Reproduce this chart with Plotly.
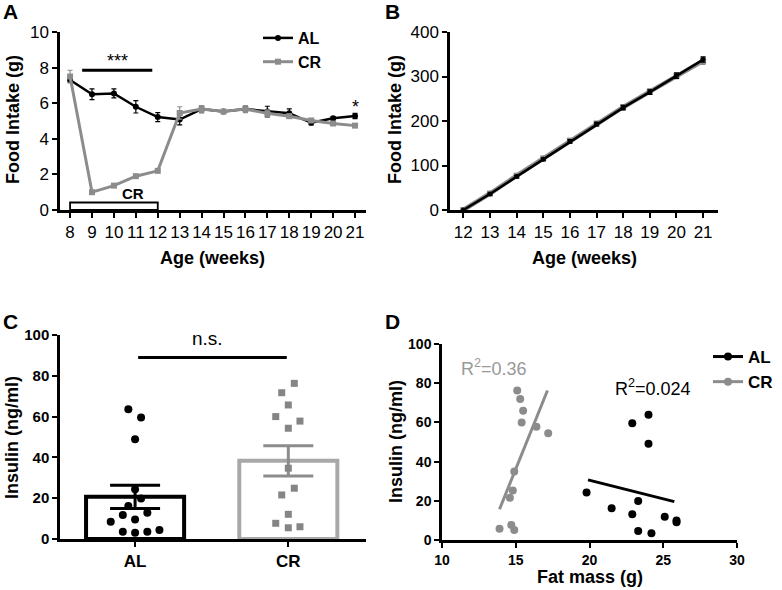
import plotly.graph_objects as go

# Panel A: weekly food intake
weeks_a = [8, 9, 10, 11, 12, 13, 14, 15, 16, 17, 18, 19, 20, 21]
al_intake = [7.3, 6.5, 6.55, 5.8, 5.22, 5.08, 5.67, 5.53, 5.67, 5.53, 5.43, 4.9, 5.15, 5.28]
al_intake_err = [0.15, 0.3, 0.25, 0.35, 0.25, 0.3, 0.2, 0.1, 0.15, 0.3, 0.25, 0.12, 0.1, 0.15]
cr_intake = [7.5, 1.0, 1.37, 1.9, 2.2, 5.45, 5.67, 5.53, 5.67, 5.43, 5.27, 5.03, 4.86, 4.74]
cr_intake_err = [0.35, 0.05, 0.05, 0.05, 0.05, 0.35, 0.2, 0.1, 0.2, 0.2, 0.1, 0.1, 0.1, 0.1]
cr_period = [8, 12]          # weeks under restriction (box)
sig_bar_a = [8.55, 11.75]    # *** bracket, in weeks
sig_bar_a_y = 7.85

# Panel B: cumulative food intake
weeks_b = [12, 13, 14, 15, 16, 17, 18, 19, 20, 21]
al_cum = [0, 36, 75, 114, 154, 193, 230, 265, 302, 338]
al_cum_err = [0, 2, 3, 3, 4, 4, 5, 5, 6, 6]
cr_cum = [0, 37, 77, 116, 156, 194, 231, 266, 301, 335]
cr_cum_err = [0, 3, 3, 4, 4, 5, 5, 6, 6, 8]

# Panel C: insulin per group
groups = ["AL", "CR"]
al_insulin = [63.6, 59.5, 48.9, 24.4, 19.9, 16.2, 11.8, 9.6, 12.9, 8.5, 3.6, 3.1, 3.6, 4.4]
al_jitter = [-0.044, 0.039, 0, 0, 0.039, -0.044, -0.08, 0, 0.08, -0.159, -0.08, 0, 0.08, 0.159]
cr_insulin = [76.3, 71.7, 65.7, 60.0, 57.8, 54.3, 34.7, 24.9, 21.6, 12.1, 7.7, 5.5, 6.0]
cr_jitter = [0.039, -0.043, 0, -0.082, 0.076, 0, 0, 0.039, -0.043, 0, -0.082, 0, 0.076]
insulin_mean = [20.7, 38.3]
insulin_sem = [5.7, 7.4]
ns_bar = [0.02, 0.99]
ns_bar_y = 89

# Panel D: insulin vs fat mass
al_fat = [19.8, 21.5, 22.9, 24.0, 24.0, 22.9, 23.3, 23.3, 24.2, 25.1, 25.9, 25.9]
al_ins_d = [24.2, 16.2, 59.6, 63.9, 49.1, 13.1, 19.9, 4.6, 3.4, 11.9, 9.9, 9.0]
cr_fat = [15.1, 15.3, 15.5, 15.4, 16.4, 17.2, 14.9, 14.8, 14.6, 13.9, 14.7, 14.9]
cr_ins_d = [76.3, 71.9, 65.9, 60.0, 57.8, 54.5, 34.9, 25.2, 21.6, 5.8, 7.7, 5.1]
al_fit_x = [19.9, 25.75]
al_fit_y = [30.7, 19.6]
cr_fit_x = [13.9, 17.15]
cr_fit_y = [15.7, 76.3]

W, H = 782, 590
FONT = "Liberation Sans, Arial, sans-serif"
BLACK = "#000000"
GRAY = "#8c8c8c"
LIGHT = "#a8a8a8"


def px(x):
    return x / W


def py(y):
    return 1 - y / H


def axis(domain, rng, tickvals, size, bold=False, ticktext=None, anchor=None):
    d = dict(domain=domain, range=rng, tickvals=tickvals, showgrid=False, zeroline=False,
             showline=True, linecolor=BLACK, linewidth=2.5, ticks="outside", ticklen=5,
             tickwidth=2, tickcolor=BLACK, anchor=anchor,
             tickfont=dict(family=FONT, size=size, color=BLACK,
                           weight="bold" if bold else "normal"))
    if ticktext is not None:
        d["ticktext"] = ticktext
    return d


fig = go.Figure()

# --- A ---
fig.add_trace(go.Scatter(
    x=weeks_a, y=al_intake, mode="lines+markers", name="AL",
    line=dict(color=BLACK, width=2.5), marker=dict(symbol="circle", size=6, color=BLACK),
    error_y=dict(type="data", array=al_intake_err, color=BLACK, thickness=1.2, width=2.5),
    xaxis="x", yaxis="y", legend="legend"))
fig.add_trace(go.Scatter(
    x=weeks_a, y=cr_intake, mode="lines+markers", name="CR",
    line=dict(color=GRAY, width=3), marker=dict(symbol="square", size=6, color=GRAY),
    error_y=dict(type="data", array=cr_intake_err, color=GRAY, thickness=1.2, width=2.5),
    xaxis="x", yaxis="y", legend="legend"))

# --- B ---
fig.add_trace(go.Scatter(
    x=weeks_b, y=cr_cum, mode="lines+markers", showlegend=False,
    line=dict(color=GRAY, width=4.5), marker=dict(symbol="square", size=6, color=GRAY),
    error_y=dict(type="data", array=cr_cum_err, color=GRAY, thickness=1.2, width=2.5),
    xaxis="x2", yaxis="y2"))
fig.add_trace(go.Scatter(
    x=weeks_b, y=al_cum, mode="lines+markers", showlegend=False,
    line=dict(color=BLACK, width=2.5), marker=dict(symbol="circle", size=5, color=BLACK),
    error_y=dict(type="data", array=al_cum_err, color=BLACK, thickness=1.2, width=2.5),
    xaxis="x2", yaxis="y2"))

# --- C ---
for i, col, ecol in [(0, BLACK, BLACK), (1, LIGHT, GRAY)]:
    fig.add_trace(go.Bar(
        x=[i], y=[insulin_mean[i]], width=0.64, showlegend=False,
        marker=dict(color="white", line=dict(color=col, width=4)),
        error_y=dict(type="data", array=[insulin_sem[i]], color=ecol, thickness=3, width=25),
        xaxis="x3", yaxis="y3"))
fig.add_trace(go.Scatter(
    x=[0 + j for j in al_jitter], y=al_insulin, mode="markers", showlegend=False,
    marker=dict(symbol="circle", size=8, color=BLACK), xaxis="x3", yaxis="y3"))
fig.add_trace(go.Scatter(
    x=[1 + j for j in cr_jitter], y=cr_insulin, mode="markers", showlegend=False,
    marker=dict(symbol="square", size=7, color="#858585"), xaxis="x3", yaxis="y3"))

# --- D ---
fig.add_trace(go.Scatter(
    x=al_fat, y=al_ins_d, mode="markers", showlegend=False,
    marker=dict(symbol="circle", size=8, color=BLACK), xaxis="x4", yaxis="y4"))
fig.add_trace(go.Scatter(
    x=cr_fat, y=cr_ins_d, mode="markers", showlegend=False,
    marker=dict(symbol="circle", size=8, color=GRAY), xaxis="x4", yaxis="y4"))
fig.add_trace(go.Scatter(
    x=al_fit_x, y=al_fit_y, mode="lines", showlegend=False,
    line=dict(color=BLACK, width=3), xaxis="x4", yaxis="y4"))
fig.add_trace(go.Scatter(
    x=cr_fit_x, y=cr_fit_y, mode="lines", showlegend=False,
    line=dict(color=GRAY, width=3), xaxis="x4", yaxis="y4"))
# legend entries for D (line + dot)
for name, col in [("AL", BLACK), ("CR", GRAY)]:
    fig.add_trace(go.Scatter(
        x=[None], y=[None], mode="lines+markers", name=name, legend="legend2",
        line=dict(color=col, width=3), marker=dict(symbol="circle", size=8, color=col),
        xaxis="x4", yaxis="y4"))

shapes = [
    dict(type="rect", xref="x", yref="y", x0=cr_period[0], x1=cr_period[1], y0=0, y1=0.42,
         line=dict(color=BLACK, width=1.8), fillcolor="white", layer="above"),
    dict(type="line", xref="x", yref="y", x0=sig_bar_a[0], x1=sig_bar_a[1],
         y0=sig_bar_a_y, y1=sig_bar_a_y, line=dict(color=BLACK, width=3)),
    dict(type="line", xref="x3", yref="y3", x0=ns_bar[0], x1=ns_bar[1],
         y0=ns_bar_y, y1=ns_bar_y, line=dict(color=BLACK, width=3)),
]


def ann(text, x, y, size, bold=False, color=BLACK, angle=0, xref="paper", yref="paper"):
    return dict(text=text, x=x, y=y, xref=xref, yref=yref, showarrow=False,
                textangle=angle, xanchor="center", yanchor="middle",
                font=dict(family=FONT, size=size, color=color,
                          weight="bold" if bold else "normal"))


annotations = [
    ann("A", px(10), py(11), 21, True),
    ann("B", px(392), py(11), 21, True),
    ann("C", px(10), py(322), 21, True),
    ann("D", px(392), py(322), 21, True),
    ann("Food Intake (g)", px(13), py(120), 18, True, angle=-90),
    ann("Age (weeks)", px(212), py(258), 18, True),
    ann("Food Intake (g)", px(395), py(120), 18, True, angle=-90),
    ann("Age (weeks)", px(584), py(258), 18, True),
    ann("Insulin (ng/ml)", px(12), py(438), 18, True, angle=-90),
    ann("Insulin (ng/ml)", px(396), py(442), 18, True, angle=-90),
    ann("Fat mass (g)", px(590), py(577), 18, True),
    ann("***", 10.15, 8.35, 18, xref="x", yref="y"),
    ann("*", 21, 5.8, 18, xref="x", yref="y"),
    ann("CR", 10.85, 0.9, 15, True, xref="x", yref="y"),
    ann("n.s.", 0.47, 98.5, 19, xref="x3", yref="y3"),
    ann("R<sup>2</sup>=0.36", 13.5, 88, 18, color="#999999", xref="x4", yref="y4"),
    ann("R<sup>2</sup>=0.024", 24.3, 78, 18, xref="x4", yref="y4"),
]

fig.update_layout(
    width=W, height=H,
    margin=dict(l=0, r=0, t=0, b=0, autoexpand=False),
    paper_bgcolor="white", plot_bgcolor="white",
    barmode="overlay",
    font=dict(family=FONT, color=BLACK),
    xaxis=axis([px(60), px(366)], [7.54, 21.5], weeks_a, 17, anchor="y"),
    yaxis=axis([py(210), py(32)], [0, 10], [0, 2, 4, 6, 8, 10], 17, anchor="x"),
    xaxis2=axis([px(450), px(718)], [11.5, 21.56], weeks_b, 17, anchor="y2"),
    yaxis2=axis([py(210), py(32)], [0, 400], [0, 100, 200, 300, 400], 17, anchor="x2"),
    xaxis3=axis([px(60), px(366)], [-0.49, 1.507], [0, 1], 17, True, groups, anchor="y3"),
    yaxis3=axis([py(539), py(335)], [0, 100], [0, 20, 40, 60, 80, 100], 15, True, anchor="x3"),
    xaxis4=axis([px(442), px(737)], [10, 30], [10, 15, 20, 25, 30], 14, True, anchor="y4"),
    yaxis4=axis([py(540), py(344)], [0, 100], [0, 20, 40, 60, 80, 100], 14, True, anchor="x4"),
    legend=dict(x=px(258), y=py(21), xanchor="left", yanchor="top", bgcolor="rgba(0,0,0,0)",
                font=dict(family=FONT, size=16, color=BLACK, weight="bold")),
    legend2=dict(x=px(708), y=py(339), xanchor="left", yanchor="top", bgcolor="rgba(0,0,0,0)",
                 font=dict(family=FONT, size=17, color=BLACK, weight="bold")),
    shapes=shapes,
    annotations=annotations,
)

fig.write_html("out.html", config={"displayModeBar": False},
               post_script="document.body.style.margin = '0px';")
